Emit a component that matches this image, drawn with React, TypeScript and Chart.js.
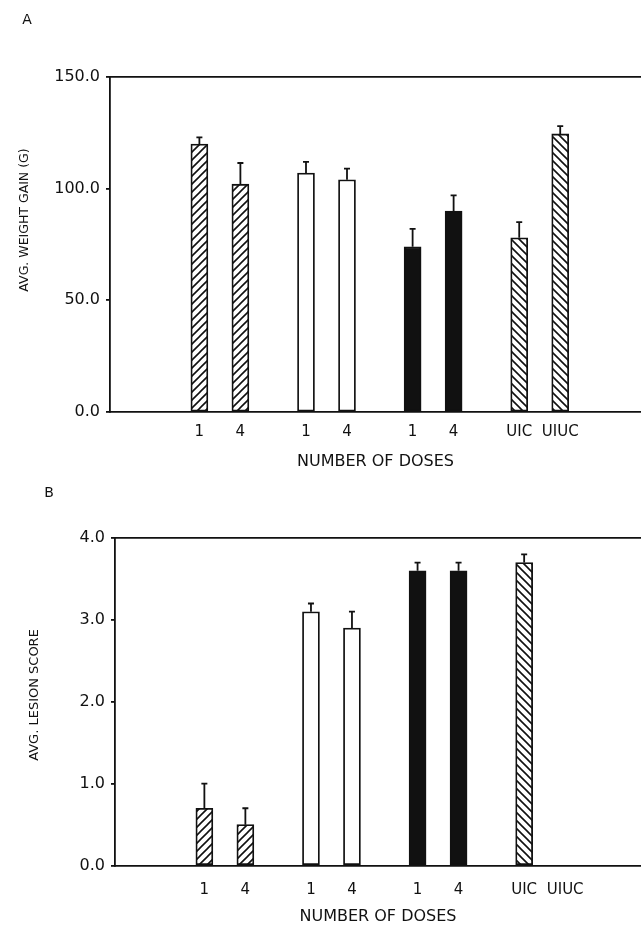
import React, { useEffect, useRef } from "react";
import { Chart, registerables } from "chart.js";

Chart.register(...registerables);

// ---- data ----
const doseLabels = ["1", "4", "1", "4", "1", "4", "UIC", "UIUC"];
const weightGain = [120, 102, 107, 104, 74, 90, 78, 124.5];
const weightGainErr = [3, 9.5, 5, 5, 8, 7, 7, 3.5];
const lesionScore = [0.7, 0.5, 3.1, 2.9, 3.6, 3.6, 3.7, 0];
const lesionScoreErr = [0.3, 0.2, 0.1, 0.2, 0.1, 0.1, 0.1, 0];
const weightTicks = [0, 50, 100, 150];
const lesionTicks = [0, 1, 2, 3, 4];

// ---- style ----
const FONT = "'DejaVu Sans', sans-serif";
const INK = "#111";
const LINE = 1.8;
const groupFill = ["up", "white", "black", "down"];

// dose axis slots: pair members 1 unit apart, groups 2.6 units apart
const FIRST = 2.18;
const GROUP_STEP = 2.6;
const slotOf = (i: number) => FIRST + GROUP_STEP * Math.floor(i / 2) + (i % 2);

function makeHatch(ctx: CanvasRenderingContext2D, dir: "up" | "down") {
  const s = 8;
  const c = document.createElement("canvas");
  c.width = s;
  c.height = s;
  const g = c.getContext("2d")!;
  g.fillStyle = "#fff";
  g.fillRect(0, 0, s, s);
  g.strokeStyle = INK;
  g.lineWidth = 1.6;
  g.beginPath();
  if (dir === "up") {
    g.moveTo(-1, s + 1);
    g.lineTo(s + 1, -1);
    g.moveTo(-1, 1);
    g.lineTo(1, -1);
    g.moveTo(s - 1, s + 1);
    g.lineTo(s + 1, s - 1);
  } else {
    g.moveTo(-1, -1);
    g.lineTo(s + 1, s + 1);
    g.moveTo(s - 1, -1);
    g.lineTo(s + 1, 1);
    g.moveTo(-1, s - 1);
    g.lineTo(1, s + 1);
  }
  g.stroke();
  return ctx.createPattern(c, "repeat");
}

type PanelSpec = {
  letter: string;
  letterPos: [number, number];
  values: number[];
  errs: number[];
  yTicks: number[];
  yMax: number;
  yTitle: string;
  yTitlePos: [number, number];
  yTitleSize: number;
  axisWidth: number;
  xMax: number;
  xTickPad: number;
  xTitlePadTop: number;
  padTop: number;
  padBottom: number;
};

const panelA: PanelSpec = {
  letter: "A",
  letterPos: [27, 20],
  values: weightGain,
  errs: weightGainErr,
  yTicks: weightTicks,
  yMax: 150,
  yTitle: "AVG. WEIGHT GAIN (G)",
  yTitlePos: [25, 220],
  yTitleSize: 12.5,
  axisWidth: 110,
  xMax: 12.95,
  xTickPad: 11,
  xTitlePadTop: 0,
  padTop: 77,
  padBottom: 8.8,
};

const panelB: PanelSpec = {
  letter: "B",
  letterPos: [49, 13],
  values: lesionScore,
  errs: lesionScoreErr,
  yTicks: lesionTicks,
  yMax: 4,
  yTitle: "AVG. LESION SCORE",
  yTitlePos: [35, 215],
  yTitleSize: 13,
  axisWidth: 115,
  xMax: 12.83,
  xTickPad: 16,
  xTitlePadTop: -8.6,
  padTop: 58,
  padBottom: 5.8,
};

function Panel({ spec, top, height }: { spec: PanelSpec; top: number; height: number }) {
  const ref = useRef<HTMLCanvasElement | null>(null);

  useEffect(() => {
    const canvas = ref.current;
    if (!canvas) return;
    const ctx = canvas.getContext("2d")!;
    const fills: Record<string, any> = {
      up: makeHatch(ctx, "up"),
      down: makeHatch(ctx, "down"),
      white: "#ffffff",
      black: INK,
    };
    const bg = spec.values.map((_, i) => fills[groupFill[Math.floor(i / 2)]]);

    const errorBars = {
      id: "errorBars",
      afterDatasetsDraw(chart: any) {
        const meta = chart.getDatasetMeta(0);
        const ys = chart.scales.y;
        const c = chart.ctx;
        c.save();
        c.strokeStyle = INK;
        c.lineWidth = LINE;
        meta.data.forEach((el: any, i: number) => {
          const e = spec.errs[i];
          if (!e) return;
          const t = ys.getPixelForValue(spec.values[i] + e);
          c.beginPath();
          c.moveTo(el.x, el.y);
          c.lineTo(el.x, t);
          c.moveTo(el.x - 3, t);
          c.lineTo(el.x + 3, t);
          c.stroke();
        });
        c.restore();
      },
    };

    const panelText = {
      id: "panelText",
      afterDraw(chart: any) {
        const c = chart.ctx;
        c.save();
        c.fillStyle = INK;
        c.font = `14px ${FONT}`;
        c.textAlign = "center";
        c.textBaseline = "middle";
        c.fillText(spec.letter, spec.letterPos[0], spec.letterPos[1]);
        c.translate(spec.yTitlePos[0], spec.yTitlePos[1]);
        c.rotate(-Math.PI / 2);
        c.font = `${spec.yTitleSize}px ${FONT}`;
        c.fillText(spec.yTitle, 0, 0);
        c.restore();
      },
    };

    const chart = new Chart(canvas, {
      type: "bar",
      data: {
        datasets: [
          {
            data: spec.values.map((v, i) => ({ x: slotOf(i), y: v })),
            backgroundColor: bg,
            borderColor: INK,
            borderWidth: LINE,
            borderSkipped: false,
            barThickness: 17,
          } as any,
        ],
      },
      options: {
        responsive: false,
        animation: false,
        events: [],
        layout: {
          padding: { top: spec.padTop, bottom: spec.padBottom, left: 0, right: 0 },
        },
        plugins: {
          legend: { display: false },
          tooltip: { enabled: false },
        },
        scales: {
          x: {
            type: "linear",
            min: 0,
            max: spec.xMax,
            offset: false,
            afterBuildTicks: (s: any) => {
              s.ticks = doseLabels.map((_, i) => ({ value: slotOf(i) }));
            },
            ticks: {
              callback: (_v: any, i: number) => doseLabels[i],
              autoSkip: false,
              maxRotation: 0,
              font: { family: FONT, size: 15 },
              color: INK,
              padding: spec.xTickPad,
            },
            grid: { display: false, drawTicks: false },
            border: { display: true, color: INK, width: LINE },
            title: {
              display: true,
              text: "NUMBER OF DOSES",
              font: { family: FONT, size: 16 },
              color: INK,
              padding: { top: spec.xTitlePadTop, bottom: 0 },
            },
          },
          x2: {
            type: "linear",
            position: "top",
            min: 0,
            max: 1,
            ticks: { display: false },
            grid: { display: false, drawTicks: false },
            border: { display: true, color: INK, width: LINE },
          },
          y: {
            min: 0,
            max: spec.yMax,
            afterBuildTicks: (s: any) => {
              s.ticks = spec.yTicks.map((v) => ({ value: v }));
            },
            afterFit: (s: any) => {
              s.width = spec.axisWidth;
            },
            ticks: {
              callback: (v: any) => Number(v).toFixed(1),
              font: { family: FONT, size: 16 },
              color: INK,
              padding: 6,
            },
            grid: {
              drawOnChartArea: false,
              drawTicks: true,
              tickLength: 4,
              color: INK,
              lineWidth: LINE,
            },
            border: { display: true, color: INK, width: LINE },
          },
        } as any,
      },
      plugins: [errorBars, panelText],
    });

    return () => chart.destroy();
  }, [spec]);

  return (
    <canvas
      ref={ref}
      width={641}
      height={height}
      style={{ position: "absolute", left: 0, top, width: 641, height, display: "block" }}
    />
  );
}

export default function App() {
  return (
    <div style={{ position: "absolute", left: 0, top: 0, width: 641, height: 932, background: "#fff" }}>
      <Panel spec={panelA} top={0} height={480} />
      <Panel spec={panelB} top={480} height={452} />
    </div>
  );
}
